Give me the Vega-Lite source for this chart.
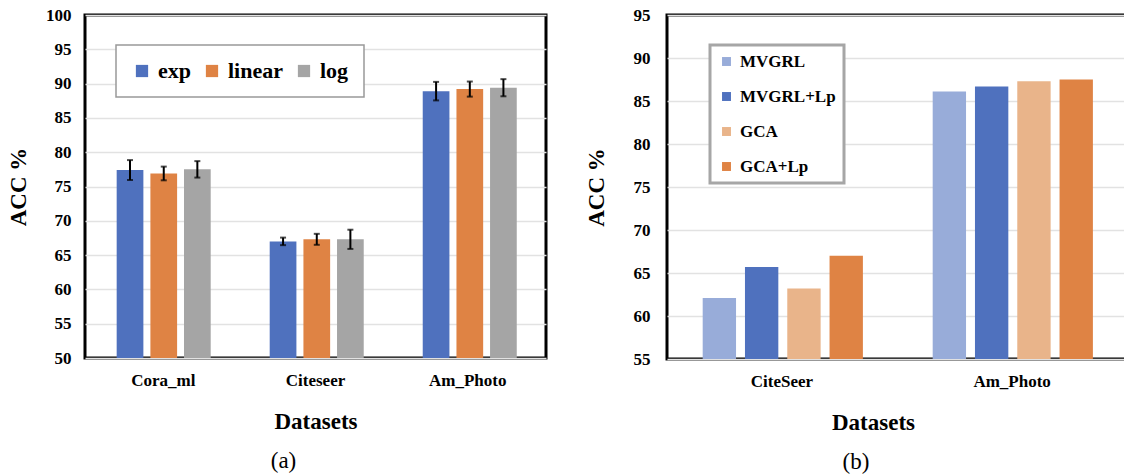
{
  "$schema": "https://vega.github.io/schema/vega-lite/v6.json",
  "padding": {"left": 5, "top": 4, "right": 0, "bottom": 0},
  "background": "white",
  "datasets": {
    "schemes": [
      {"dataset": "Cora_ml", "scheme": "exp", "acc": 77.4, "err": 1.45},
      {"dataset": "Cora_ml", "scheme": "linear", "acc": 76.9, "err": 1.0},
      {"dataset": "Cora_ml", "scheme": "log", "acc": 77.5, "err": 1.2},
      {"dataset": "Citeseer", "scheme": "exp", "acc": 67.0, "err": 0.55},
      {"dataset": "Citeseer", "scheme": "linear", "acc": 67.3, "err": 0.8},
      {"dataset": "Citeseer", "scheme": "log", "acc": 67.3, "err": 1.4},
      {"dataset": "Am_Photo", "scheme": "exp", "acc": 88.9, "err": 1.35},
      {"dataset": "Am_Photo", "scheme": "linear", "acc": 89.2, "err": 1.1},
      {"dataset": "Am_Photo", "scheme": "log", "acc": 89.4, "err": 1.25}
    ],
    "methods": [
      {"dataset": "CiteSeer", "method": "MVGRL", "acc": 62.1},
      {"dataset": "CiteSeer", "method": "MVGRL+Lp", "acc": 65.7},
      {"dataset": "CiteSeer", "method": "GCA", "acc": 63.2},
      {"dataset": "CiteSeer", "method": "GCA+Lp", "acc": 67.0},
      {"dataset": "Am_Photo", "method": "MVGRL", "acc": 86.1},
      {"dataset": "Am_Photo", "method": "MVGRL+Lp", "acc": 86.7},
      {"dataset": "Am_Photo", "method": "GCA", "acc": 87.3},
      {"dataset": "Am_Photo", "method": "GCA+Lp", "acc": 87.5}
    ]
  },
  "spacing": 121,
  "bounds": "flush",
  "hconcat": [
    {
      "width": 461,
      "height": 343,
      "title": {"text": "(a)", "orient": "bottom", "fontSize": 23, "fontWeight": "normal", "font": "Liberation Serif", "dx": -32, "offset": 17},
      "data": {"name": "schemes"},
      "encoding": {
        "y": {
          "field": "acc", "type": "quantitative",
          "scale": {"domain": [50, 100], "nice": false, "zero": false},
          "axis": {"title": "ACC %", "values": [50, 55, 60, 65, 70, 75, 80, 85, 90, 95, 100], "labelPadding": 14, "titleX": -55}
        }
      },
      "layer": [
        {
          "mark": {"type": "bar", "opacity": 0, "clip": true},
          "encoding": {
            "x": {
              "field": "dataset", "type": "nominal", "sort": ["Cora_ml", "Citeseer", "Am_Photo"],
              "scale": {"paddingInner": 0.386, "paddingOuter": 0.207},
              "axis": {"title": "Datasets", "labelAngle": 0, "labelPadding": 14, "titlePadding": 22}
            }
          }
        },
        {
          "transform": [{"filter": {"field": "scheme", "equal": "exp"}}],
          "encoding": {
            "x": {"field": "dataset", "type": "nominal", "sort": ["Cora_ml", "Citeseer", "Am_Photo"],
                  "scale": {"paddingInner": 0.8255, "paddingOuter": 0.419, "align": 0.247}, "axis": null}
          },
          "layer": [
            {
              "mark": {"type": "bar", "clip": true},
              "encoding": {
                "color": {
                  "field": "scheme", "type": "nominal",
                  "scale": {"domain": ["exp", "linear", "log"], "range": ["#4F71BE", "#DF8344", "#A5A5A5"]},
                  "legend": {
                    "title": null, "orient": "none", "legendX": 31, "legendY": 30,
                    "direction": "horizontal", "columns": 3, "symbolType": "square", "symbolSize": 150,
                    "labelFontSize": 22, "labelFont": "Liberation Serif", "labelFontWeight": "bold",
                    "labelOffset": 5, "columnPadding": 10, "padding": 15,
                    "strokeColor": "#999999", "fillColor": "white", "symbolStrokeWidth": 0,
                    "encode": {"legend": {"update": {"strokeWidth": {"value": 1.5}}}}
                  }
                }
              }
            },
            {
              "mark": {"type": "errorbar", "color": "black", "ticks": {"size": 6, "thickness": 2, "color": "black"}, "rule": {"strokeWidth": 2, "color": "black"}},
              "encoding": {"yError": {"field": "err"}}
            }
          ]
        },
        {
          "transform": [{"filter": {"field": "scheme", "equal": "linear"}}],
          "encoding": {
            "x": {"field": "dataset", "type": "nominal", "sort": ["Cora_ml", "Citeseer", "Am_Photo"],
                  "scale": {"paddingInner": 0.8255, "paddingOuter": 0.419, "align": 0.51}, "axis": null}
          },
          "layer": [
            {
              "mark": {"type": "bar", "clip": true},
              "encoding": {"color": {"field": "scheme", "type": "nominal"}}
            },
            {
              "mark": {"type": "errorbar", "color": "black", "ticks": {"size": 6, "thickness": 2, "color": "black"}, "rule": {"strokeWidth": 2, "color": "black"}},
              "encoding": {"yError": {"field": "err"}}
            }
          ]
        },
        {
          "transform": [{"filter": {"field": "scheme", "equal": "log"}}],
          "encoding": {
            "x": {"field": "dataset", "type": "nominal", "sort": ["Cora_ml", "Citeseer", "Am_Photo"],
                  "scale": {"paddingInner": 0.8255, "paddingOuter": 0.419, "align": 0.772}, "axis": null}
          },
          "layer": [
            {
              "mark": {"type": "bar", "clip": true},
              "encoding": {"color": {"field": "scheme", "type": "nominal"}}
            },
            {
              "mark": {"type": "errorbar", "color": "black", "ticks": {"size": 6, "thickness": 2, "color": "black"}, "rule": {"strokeWidth": 2, "color": "black"}},
              "encoding": {"yError": {"field": "err"}}
            }
          ]
        }
      ],
      "resolve": {"scale": {"x": "independent"}, "axis": {"x": "independent"}}
    },
    {
      "width": 460,
      "height": 344,
      "title": {"text": "(b)", "orient": "bottom", "fontSize": 23, "fontWeight": "normal", "font": "Liberation Serif", "dx": -41, "offset": 17},
      "data": {"name": "methods"},
      "encoding": {
        "y": {
          "field": "acc", "type": "quantitative",
          "scale": {"domain": [55, 95], "nice": false, "zero": false},
          "axis": {"title": "ACC %", "values": [55, 60, 65, 70, 75, 80, 85, 90, 95], "labelPadding": 17, "titleX": -59}
        }
      },
      "layer": [
        {
          "mark": {"type": "bar", "opacity": 0, "clip": true},
          "encoding": {
            "x": {
              "field": "dataset", "type": "nominal", "sort": ["CiteSeer", "Am_Photo"],
              "scale": {"paddingInner": 0.312, "paddingOuter": 0.155},
              "axis": {"title": "Datasets", "labelAngle": 0, "labelPadding": 14, "titlePadding": 22, "titleX": 206}
            }
          }
        },
        {
          "transform": [{"filter": {"field": "method", "equal": "MVGRL"}}],
          "mark": {"type": "bar", "clip": true},
          "encoding": {
            "x": {"field": "dataset", "type": "nominal", "sort": ["CiteSeer", "Am_Photo"],
                  "scale": {"paddingInner": 0.855, "paddingOuter": 0.4275, "align": 0.1815}, "axis": null},
            "color": {
              "field": "method", "type": "nominal",
              "scale": {"domain": ["MVGRL", "MVGRL+Lp", "GCA", "GCA+Lp"], "range": ["#98ACD9", "#4F71BE", "#E9B48A", "#DF8344"]},
              "legend": {
                "title": null, "orient": "none", "legendX": 43, "legendY": 30,
                "direction": "vertical", "symbolType": "square", "symbolSize": 80,
                "labelFontSize": 17, "labelFont": "Liberation Serif", "labelFontWeight": "bold",
                "labelOffset": 5, "rowPadding": 17, "padding": 8,
                "strokeColor": "#A6A6A6", "fillColor": "white", "symbolStrokeWidth": 0,
                "encode": {"legend": {"update": {"strokeWidth": {"value": 3}}}}
              }
            }
          }
        },
        {
          "transform": [{"filter": {"field": "method", "equal": "MVGRL+Lp"}}],
          "mark": {"type": "bar", "clip": true},
          "encoding": {
            "x": {"field": "dataset", "type": "nominal", "sort": ["CiteSeer", "Am_Photo"],
                  "scale": {"paddingInner": 0.855, "paddingOuter": 0.4275, "align": 0.3965}, "axis": null},
            "color": {"field": "method", "type": "nominal"}
          }
        },
        {
          "transform": [{"filter": {"field": "method", "equal": "GCA"}}],
          "mark": {"type": "bar", "clip": true},
          "encoding": {
            "x": {"field": "dataset", "type": "nominal", "sort": ["CiteSeer", "Am_Photo"],
                  "scale": {"paddingInner": 0.855, "paddingOuter": 0.4275, "align": 0.6116}, "axis": null},
            "color": {"field": "method", "type": "nominal"}
          }
        },
        {
          "transform": [{"filter": {"field": "method", "equal": "GCA+Lp"}}],
          "mark": {"type": "bar", "clip": true},
          "encoding": {
            "x": {"field": "dataset", "type": "nominal", "sort": ["CiteSeer", "Am_Photo"],
                  "scale": {"paddingInner": 0.855, "paddingOuter": 0.4275, "align": 0.8266}, "axis": null},
            "color": {"field": "method", "type": "nominal"}
          }
        }
      ],
      "resolve": {"scale": {"x": "independent"}, "axis": {"x": "independent"}}
    }
  ],
  "resolve": {"scale": {"color": "independent"}},
  "config": {
    "font": "Liberation Serif",
    "view": {"stroke": "black", "strokeWidth": 3},
    "axis": {
      "domain": false, "ticks": false,
      "gridColor": "#E2E2E2", "gridWidth": 1.5,
      "labelFont": "Liberation Serif", "labelFontSize": 17, "labelFontWeight": "bold", "labelColor": "black",
      "titleFont": "Liberation Serif", "titleFontSize": 23, "titleFontWeight": "bold", "titleColor": "black"
    },
    "axisX": {"grid": false},
    "title": {"color": "black"}
  }
}
